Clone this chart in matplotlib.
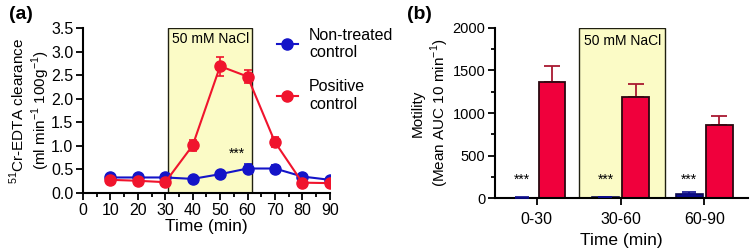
import matplotlib
matplotlib.use("Agg")
import matplotlib.pyplot as plt
import numpy as np
from matplotlib.ticker import MultipleLocator
from matplotlib.lines import Line2D

fam = 'Liberation Sans'
plt.rcParams['font.family'] = [fam, 'DejaVu Sans']
plt.rcParams['mathtext.fontset'] = 'custom'
plt.rcParams['mathtext.rm'] = fam

# Panel (a) data
time = [10, 20, 30, 40, 50, 60, 70, 80, 90]
nontreated = [0.33, 0.33, 0.33, 0.30, 0.40, 0.52, 0.52, 0.35, 0.28]
nontreated_err = [0.02, 0.02, 0.02, 0.02, 0.03, 0.09, 0.08, 0.02, 0.02]
positive = [0.28, 0.26, 0.23, 1.01, 2.69, 2.47, 1.08, 0.22, 0.21]
positive_err = [0.03, 0.03, 0.03, 0.12, 0.2, 0.13, 0.1, 0.03, 0.03]

# Panel (b) data
periods = ["0-30", "30-60", "60-90"]
motility_nt = [5, 10, 47]
motility_nt_err = [3, 5, 28]
motility_pc = [1361, 1188, 859]
motility_pc_err = [196, 157, 102]

blue = '#1414C8'
red = '#F0142D'

fig = plt.figure(figsize=(7.5, 2.52), dpi=100)
fs = 11.5

# ---------- Panel a ----------
ax = fig.add_axes([0.1107, 0.234, 0.329, 0.655])
ax.axvspan(31, 61.5, ymin=0, ymax=1, facecolor='#FBFBC6', edgecolor='#202010', linewidth=1.0, zorder=0)
ax.errorbar(time, nontreated, yerr=nontreated_err, color=blue, marker='o', markersize=8,
            linewidth=1.5, capsize=3, elinewidth=1.2, capthick=1.2, zorder=3)
ax.errorbar(time, positive, yerr=positive_err, color=red, marker='o', markersize=8,
            linewidth=1.5, capsize=3, elinewidth=1.2, capthick=1.2, zorder=4)
ax.set_xlim(0, 90)
ax.set_ylim(0, 3.5)
ax.xaxis.set_major_locator(MultipleLocator(10))
ax.xaxis.set_minor_locator(MultipleLocator(5))
ax.yaxis.set_major_locator(MultipleLocator(0.5))
ax.yaxis.set_major_formatter(matplotlib.ticker.FormatStrFormatter('%.1f'))
for s in ['top', 'right']:
    ax.spines[s].set_visible(False)
for s in ['left', 'bottom']:
    ax.spines[s].set_linewidth(1.5)
ax.tick_params(axis='both', which='major', labelsize=fs, width=1.3, length=5, pad=2)
ax.tick_params(axis='both', which='minor', width=1.3, length=3)
ax.set_xlabel('Time (min)', fontsize=fs + 1, labelpad=1)
ax.set_ylabel('$^{51}$Cr-EDTA clearance\n(ml min$^{-1}$ 100g$^{-1}$)', fontsize=11, linespacing=1.2)
ax.yaxis.set_label_coords(-0.125, 0.5)
ax.text(46.5, 3.42, '50 mM NaCl', fontsize=10, ha='center', va='top')
ax.text(56, 0.83, '***', fontsize=10, ha='center', va='center')
handles = [Line2D([], [], color=blue, marker='o', markersize=8, linewidth=1.5),
           Line2D([], [], color=red, marker='o', markersize=8, linewidth=1.5)]
ax.legend(handles, ['Non-treated\ncontrol', 'Positive\ncontrol'], loc='upper left',
          bbox_to_anchor=(0.76, 1.04), frameon=False, fontsize=fs,
          handlelength=1.3, handletextpad=0.7, labelspacing=1.2, borderaxespad=0)
fig.text(0.012, 0.975, '(a)', fontsize=14, fontweight='bold', va='top')

# ---------- Panel b ----------
bx = fig.add_axes([0.66, 0.214, 0.337, 0.675])
x = np.arange(len(periods))
w = 0.32
off = 0.18
bx.axvspan(0.5, 1.53, facecolor='#FBFBC6', edgecolor='#202010', linewidth=1.0, zorder=0)
bx.bar(x - off, motility_nt, w, color='#0C0C8C', edgecolor='#0A0A50', linewidth=1.2, zorder=2)
bx.errorbar(x - off, motility_nt, yerr=[np.zeros(3), motility_nt_err], fmt='none', ecolor='#0C0C8C',
            capsize=5, elinewidth=1.2, capthick=1.2, zorder=3)
bx.bar(x + off, motility_pc, w, color='#F0003C', edgecolor='#2A0810', linewidth=1.3, zorder=2)
bx.errorbar(x + off, motility_pc, yerr=[np.zeros(3), motility_pc_err], fmt='none', ecolor='#A81830',
            capsize=6, elinewidth=1.3, capthick=1.3, zorder=1.5)
for xi in x:
    bx.text(xi - off, 215, '***', fontsize=10, ha='center', va='center')
bx.text(1.02, 1930, '50 mM NaCl', fontsize=10, ha='center', va='top')
bx.set_xlim(-0.5, 2.52)
bx.set_ylim(0, 2000)
bx.set_xticks(x)
bx.set_xticklabels(periods)
bx.yaxis.set_major_locator(MultipleLocator(500))
bx.yaxis.set_minor_locator(MultipleLocator(250))
for s in ['top', 'right']:
    bx.spines[s].set_visible(False)
for s in ['left', 'bottom']:
    bx.spines[s].set_linewidth(1.5)
bx.tick_params(axis='x', which='major', labelsize=fs, width=1.3, length=5, pad=5)
bx.tick_params(axis='y', which='major', labelsize=10.5, width=1.3, length=5, pad=2)
bx.tick_params(axis='y', which='minor', width=1.3, length=3)
bx.set_xlabel('Time (min)', fontsize=fs + 1, labelpad=4)
bx.set_ylabel('Motility\n(Mean AUC 10 min$^{-1}$)', fontsize=11, linespacing=1.2)
bx.yaxis.set_label_coords(-0.175, 0.5)
fig.text(0.542, 0.975, '(b)', fontsize=14, fontweight='bold', va='top')

fig.savefig('out.png', dpi=100)
